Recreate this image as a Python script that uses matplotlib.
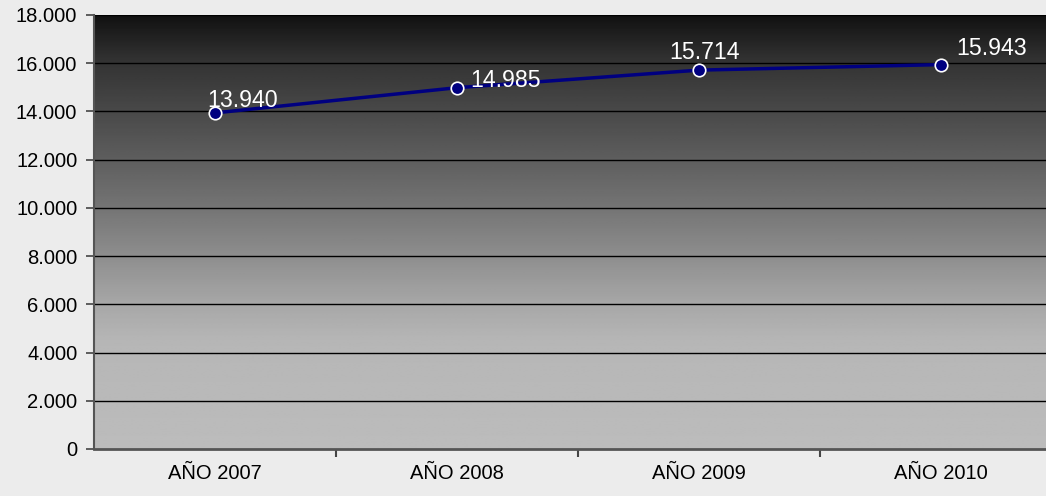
import matplotlib.pyplot as plt
import numpy as np

# --- Data ---
categories = ["AÑO 2007", "AÑO 2008", "AÑO 2009", "AÑO 2010"]
values = [13940, 14985, 15714, 15943]
labels = ["13.940", "14.985", "15.714", "15.943"]
yticks = list(range(0, 18001, 2000))
ytick_labels = ["0" if t == 0 else f"{t // 1000}.000" for t in yticks]

# label offsets in pixels (style only)
offsets = [(-8, 1), (13, -4), (-30, 6), (15, 5)]

W, H, DPI = 1046, 496, 100
fig = plt.figure(figsize=(W / DPI, H / DPI), dpi=DPI)
fig.patch.set_facecolor("#ececec")

# plot area: x 94..1062 px (runs past the right edge), y 15..449 px
ax = fig.add_axes([94 / W, 1 - 449 / H, (1062 - 94) / W, (449 - 15) / H])

# vertical gradient of the plot area
frac = np.linspace(0, 1, 256)
grey = np.interp(frac, [0, 0.1, 0.31, 0.45, 0.66, 0.75, 1.0],
                 [18, 50, 90, 118, 166, 182, 188]) / 255
grad = np.repeat(grey[:, None], 2, axis=1)
ax.imshow(grad, cmap="gray", vmin=0, vmax=1, aspect="auto",
          extent=[-0.5, 3.5, 0, 18000], origin="upper", zorder=0)

x = np.arange(len(categories))
ax.set_xlim(-0.5, 3.5)
ax.set_ylim(0, 18000)

for t in yticks[1:]:
    ax.axhline(t, color="black", linewidth=1.0, zorder=1)

ax.plot(x, values, color="#000080", linewidth=2.5, zorder=3,
        marker="o", markersize=9, markerfacecolor="#000080",
        markeredgecolor="white", markeredgewidth=1.2)

for xi, v, lab, (dx, dy) in zip(x, values, labels, offsets):
    ax.annotate(lab, (xi, v), xytext=(dx * 0.72, dy * 0.72), textcoords="offset points",
                color="white", fontsize=16.7, family="Liberation Sans",
                ha="left", va="bottom", zorder=4)

ax.set_yticks(yticks)
ax.set_yticklabels(ytick_labels, fontsize=14.5, family="Liberation Sans")
ax.set_xticks(x)
ax.set_xticklabels(categories, fontsize=14.5, family="Liberation Sans")
ax.set_xticks([0.5, 1.5, 2.5], minor=True)
ax.tick_params(axis="x", which="major", length=0, pad=11)
ax.tick_params(axis="x", which="minor", length=6, width=1.5, color="#444444")
ax.tick_params(axis="y", length=6, width=1.2, color="#444444", pad=6)

for s in ["top", "right"]:
    ax.spines[s].set_visible(False)
ax.spines["left"].set_color("#555555")
ax.spines["left"].set_linewidth(1.5)
ax.spines["bottom"].set_color("#555555")
ax.spines["bottom"].set_linewidth(2)

fig.savefig("out.png", dpi=DPI, facecolor=fig.get_facecolor())
